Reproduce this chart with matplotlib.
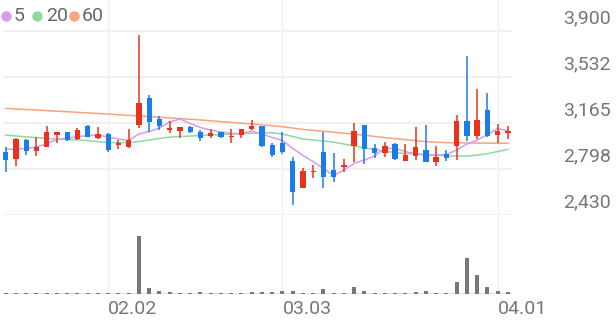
import matplotlib
matplotlib.use("Agg")
import matplotlib.pyplot as plt
from matplotlib.lines import Line2D

plt.rcParams['font.family'] = ['Roboto', 'DejaVu Sans']

########## DATA ###############
opens  = [2936, 2875, 3029, 2944, 2976, 3069, 3091, 3035, 3141, 3043,
          3077, 2989, 2976, 3149, 3362, 3195, 3109, 3104, 3135, 3096,
          3064, 3093, 3051, 3069, 3115, 3141, 2989, 3003, 2859, 2648,
          2771, 2936, 2790, 2816, 2981, 3149, 2968, 2929, 3001, 2861,
          2904, 2949, 2856, 2915, 2985, 3181, 3061, 3271, 3073, 3089]
highs  = [2976, 3045, 3037, 3051, 3141, 3093, 3097, 3125, 3149, 3135,
          3088, 3029, 3115, 3868, 3389, 3221, 3181, 3137, 3141, 3109,
          3115, 3097, 3115, 3117, 3189, 3145, 3005, 3096, 2893, 2803,
          2832, 3096, 2923, 2875, 3163, 3153, 3000, 3016, 3005, 2995,
          3133, 3149, 2981, 2953, 3229, 3703, 3435, 3402, 3155, 3141]
lows   = [2770, 2822, 2909, 2904, 2973, 3005, 3025, 3029, 3053, 3037,
          2936, 2957, 2965, 3123, 3096, 3109, 3083, 3049, 3089, 3024,
          3048, 3047, 3003, 3043, 3113, 2977, 2891, 2920, 2510, 2646,
          2723, 2646, 2694, 2776, 2856, 2838, 2883, 2896, 2873, 2858,
          2873, 2850, 2825, 2859, 2869, 3019, 3041, 3056, 3003, 3041]
closes = [2869, 3035, 2944, 2976, 3091, 3091, 3029, 3109, 3056, 3077,
          2949, 3003, 3029, 3327, 3175, 3141, 3123, 3135, 3093, 3043,
          3089, 3051, 3061, 3115, 3141, 2981, 2907, 2933, 2616, 2779,
          2782, 2734, 2736, 2827, 3099, 2955, 2928, 2981, 2877, 2909,
          2976, 2853, 2891, 2888, 3181, 3063, 3185, 3065, 3101, 3101]

ma5  = [2955, 2957, 2961, 2973, 3001, 3033, 3045, 3056, 3065, 3069,
        3053, 3037, 3025, 3077, 3097, 3125, 3173, 3197, 3161, 3129,
        3109, 3093, 3081, 3081, 3101, 3077, 3049, 3025, 2963, 2905,
        2857, 2801, 2746, 2789, 2843, 2869, 2901, 2963, 2961, 2937,
        2917, 2909, 2909, 2913, 2949, 2997, 3029, 3071, 3121, 3103]
ma20 = [3069, 3061, 3055, 3048, 3042, 3037, 3034, 3030, 3024, 3016,
        3009, 3008, 3008, 3017, 3029, 3042, 3052, 3057, 3061, 3065,
        3069, 3073, 3077, 3080, 3083, 3085, 3087, 3077, 3057, 3037,
        3029, 3021, 3012, 2997, 2983, 2967, 2952, 2940, 2928, 2921,
        2917, 2914, 2908, 2901, 2901, 2901, 2909, 2920, 2937, 2955]
ma60 = [3282, 3277, 3273, 3269, 3264, 3259, 3255, 3250, 3246, 3241,
        3236, 3231, 3226, 3221, 3216, 3211, 3206, 3200, 3195, 3189,
        3183, 3176, 3170, 3163, 3157, 3151, 3143, 3135, 3125, 3114,
        3106, 3099, 3092, 3083, 3077, 3067, 3058, 3048, 3040, 3032,
        3024, 3017, 3011, 3008, 3007, 3006, 3005, 3004, 3004, 3003]

volumes = [130, 130, 130, 130, 130, 130, 130, 130, 130, 130,
           130, 130, 130, 5800, 570, 300, 180, 150, 150, 200,
           150, 150, 150, 150, 180, 250, 180, 300, 330, 150,
           150, 470, 150, 150, 670, 330, 150, 150, 150, 150,
           180, 330, 150, 150, 1230, 3570, 1900, 730, 330, 230]

price_ticks = [3900, 3532.5, 3165, 2797.5, 2430]
price_labels = ['3,900', '3,532', '3,165', '2,798', '2,430']
date_idx = [10, 27, 48]
date_labels = ['02.02', '03.03', '04.01']
ma_names = ['5', '20', '60']

########## STYLE ###############
UP = '#e8321c'
DOWN = '#1a7ceb'
MA_COLORS = ['#d79bf0', '#8ed9a0', '#f8a47c']
GRID = '#f0f0f0'
TXT = '#767676'

fig = plt.figure(figsize=(6.16, 3.21), dpi=100)
W, H = 616.0, 321.0
x0 = -0.263
x1 = 49.4

# price panel: from pixel y=0 to y=215, 3900 at y=31
ax = fig.add_axes([3 / W, (H - 215) / H, 509 / W, 215 / H])
px_per_price = 46.0 / 367.5
ax.set_ylim(2430, 3900 + 31 / px_per_price)
ax.set_xlim(x0, x1)

# volume panel: y=215 .. 294
axv = fig.add_axes([3 / W, (H - 294) / H, 509 / W, 79 / H])
axv.set_xlim(x0, x1)
axv.set_ylim(0, 7900)

for a in (ax, axv):
    for s in a.spines.values():
        s.set_visible(False)
    a.set_xticks([])
    a.set_yticks([])
    for d in date_idx:
        a.axvline(d, color=GRID, lw=1.0, zorder=0)

for t in price_ticks:
    ax.axhline(t, color=GRID, lw=1.5, zorder=0)
axv.axhline(0, color='#e2e2e2', lw=1.5, zorder=0)

for t, lab in zip(price_ticks, price_labels):
    ax.annotate(lab, xy=(611 / W, t), xycoords=('figure fraction', 'data'),
                xytext=(0, 13), textcoords='offset pixels',
                ha='right', va='center', fontsize=14, color=TXT)

for d, lab in zip(date_idx, date_labels):
    axv.annotate(lab, xy=(d, 0), xycoords=('data', 'axes fraction'),
                 xytext=(0, -15), textcoords='offset pixels',
                 ha='left', va='center', fontsize=14, color=TXT)

# MA lines
xs = list(range(len(closes)))
for ma, c in zip([ma60, ma20, ma5], [MA_COLORS[2], MA_COLORS[1], MA_COLORS[0]]):
    ax.plot(xs, ma, color=c, lw=1.1, zorder=2)

# candles
min_h = 9
for i in xs:
    o, h, l, c = opens[i], highs[i], lows[i], closes[i]
    col = UP if c >= o else DOWN
    ax.vlines(i, l, h, color=col, lw=1.1, zorder=3)
    bot = min(o, c)
    ht = max(abs(c - o), min_h)
    ax.bar(i, ht, bottom=bot, width=0.52, color=col, zorder=4, linewidth=0)

axv.bar(xs, volumes, width=0.4, color='#777777', zorder=3, linewidth=0)

# legend: dot + label, positions in figure pixels
dot_x = [6, 37, 74]
txt_x = [14, 46, 82]
for dx, tx, c, n in zip(dot_x, txt_x, MA_COLORS, ma_names):
    fig.add_artist(Line2D([dx / W], [1 - 16 / H], transform=fig.transFigure,
                          marker='o', markersize=6.5, linestyle='',
                          markerfacecolor=c, markeredgecolor=c))
    fig.text(tx / W, 1 - 16 / H, n, ha='left', va='center',
             fontsize=14, color='#666666')

fig.savefig('out.png', dpi=100)
